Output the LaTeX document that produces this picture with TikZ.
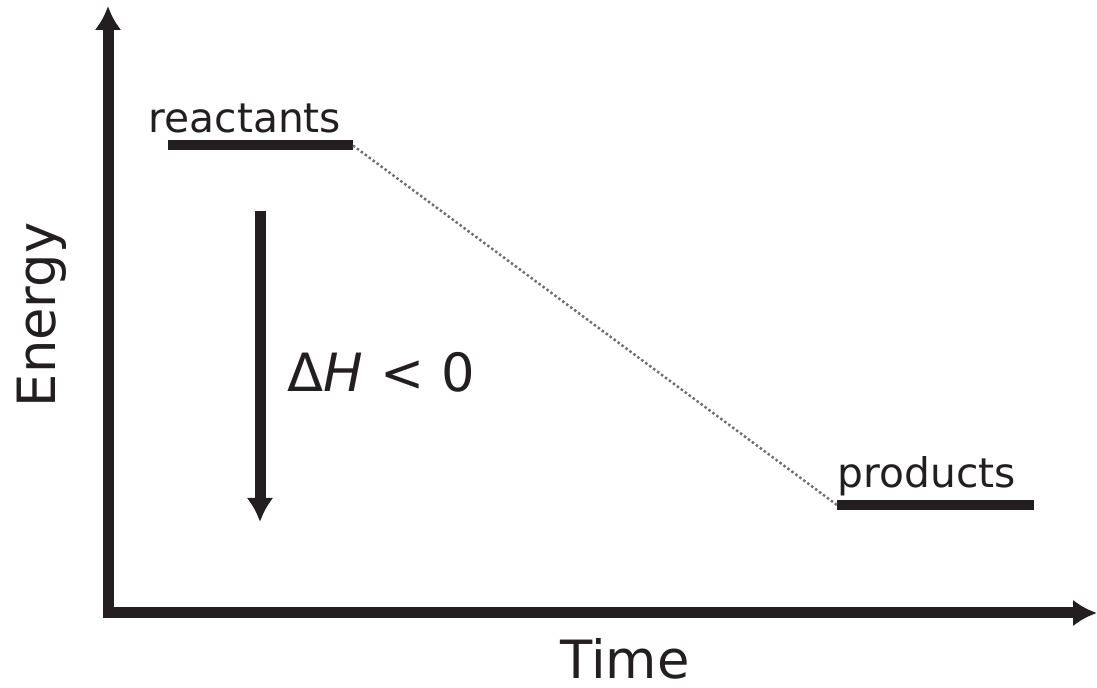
\documentclass[tikz,border=0pt]{standalone}
\usepackage{fontspec}
\setsansfont{DejaVu Sans}
\usepackage{xcolor}
\usepackage{tikz}
\usetikzlibrary{arrows.meta, positioning, calc}
\definecolor{Tinta}   {RGB}{35, 31, 32}
\definecolor{Puntos}  {RGB}{110,110,110}

\begin{document}
\begin{tikzpicture}[
    eje/.style={Tinta,line width=1.1mm,-{Latex[length=2.4mm,width=2.7mm]}},
    nivel/.style={Tinta,line width=1mm},
    camino/.style={Puntos,line width=0.7pt,dash pattern=on 0.7pt off 0.7pt},
    etiq/.style={inner sep=0pt,font=\sffamily\fontsize{11.6}{14}\selectfont,text=Tinta},
    rotulo/.style={inner sep=0pt,font=\sffamily\fontsize{15}{18}\selectfont,text=Tinta}]
  \useasboundingbox (0,0) rectangle (10.97,6.87);
  % ejes
  \coordinate (origenV) at (1.08,0.70);
  \coordinate (topeV)   at (1.08,6.81);
  \coordinate (origenH) at (1.03,0.74);
  \coordinate (topeH)   at (10.97,0.74);
  \draw[eje] (origenV) -- (topeV);
  \draw[eje] (origenH) -- (topeH);
  % niveles
  \coordinate (reacIni) at (1.68,5.415);
  \coordinate (reacFin) at (3.53,5.415);
  \coordinate (prodIni) at (8.37,1.82);
  \coordinate (prodFin) at (10.34,1.82);
  \draw[nivel] (reacIni) -- (reacFin);
  \draw[nivel] (prodIni) -- (prodFin);
  \draw[camino] (reacFin) -- (prodIni);
  \node[etiq,anchor=base west] (reac) at (1.48,5.54) {reactants};
  \node[etiq,anchor=base west] (prod) at (8.37,1.99) {products};
  % entalpia
  \coordinate (dhIni) at (2.60,4.76);
  \coordinate (dhFin) at (2.60,1.65);
  \draw[eje] (dhIni) -- (dhFin);
  \node[rotulo,anchor=base west] (dh) at (2.87,2.95)
    {Δ\textit{H} < 0};
  % rotulos de ejes
  \node[rotulo,anchor=base] (tiempo) at (6.25,0.08) {Time};
  \node[rotulo,anchor=base,rotate=90] (energia) at (0.55,3.72) {Energy};
\end{tikzpicture}
\end{document}
